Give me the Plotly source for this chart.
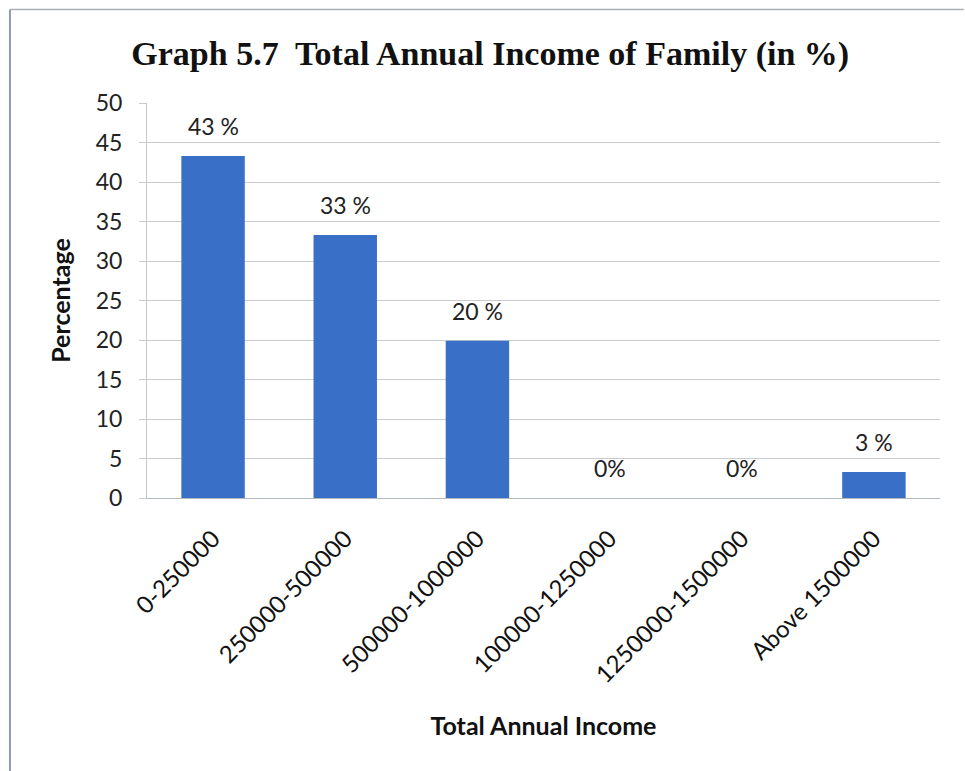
import plotly.graph_objects as go

categories = ["0-250000", "250000-500000", "500000-1000000", "100000-1250000", "1250000-1500000", "Above 1500000"]
values = [43.3, 33.3, 19.9, 0, 0, 3.3]
labels = ["43 %", "33 %", "20 %", "0%", "0%", "3 %"]
y_ticks = [0, 5, 10, 15, 20, 25, 30, 35, 40, 45, 50]

FONT = "Lato, Open Sans, sans-serif"

fig = go.Figure(go.Bar(
    x=categories, y=values,
    marker=dict(color="#3a6fc8", line=dict(width=0)),
    hoverinfo="x+y",
))

for c, v, t in zip(categories, values, labels):
    fig.add_annotation(x=c, y=v, text=t, showarrow=False, yanchor="bottom",
                       yshift=14, font=dict(family=FONT, size=23, color="#222"))

fig.update_layout(
    width=965, height=771,
    margin=dict(l=147, r=25, t=103, b=273),
    paper_bgcolor="white", plot_bgcolor="white",
    bargap=0.52,
    showlegend=False,
    title=dict(text="Graph 5.7  Total Annual Income of Family (in %)",
               x=0.508, xanchor="center", y=0.931, yanchor="middle",
               font=dict(family="Liberation Serif, Times New Roman, serif", size=34, color="#111", weight="bold")),
    font=dict(family=FONT, color="#222"),
)
fig.update_yaxes(
    range=[0, 50], tickvals=y_ticks, showgrid=True, gridcolor="#c8ccd0", gridwidth=1,
    showline=True, linecolor="#c8c8c8", linewidth=1, zeroline=False,
    tickfont=dict(size=23, color="#222"), ticks="outside", ticklen=7, tickcolor="#c8ccd0",
    ticklabelstandoff=12,
    title=dict(text="<b>Percentage</b>", font=dict(size=25, color="#111"), standoff=17),
)
fig.update_xaxes(
    tickangle=-45, tickfont=dict(size=24, color="#111"),
    showline=True, linecolor="#b0b8c0", linewidth=1, ticklabelstandoff=16,
    title=dict(text="<b>Total Annual Income</b>", font=dict(size=25, color="#111"), standoff=30),
)
# frame (top and left edges only, as in the scanned figure)
fig.add_shape(type="line", xref="paper", yref="paper",
              x0=-0.1728, x1=1.03, y0=1.2367, y1=1.2367,
              line=dict(color="#aab0b8", width=1.5))
fig.add_shape(type="line", xref="paper", yref="paper",
              x0=-0.1728, x1=-0.1728, y0=1.2367, y1=-0.70,
              line=dict(color="#8f9cab", width=2))

fig.write_html("out.html", config={"displayModeBar": False},
               post_script="document.body.style.margin='0';")
